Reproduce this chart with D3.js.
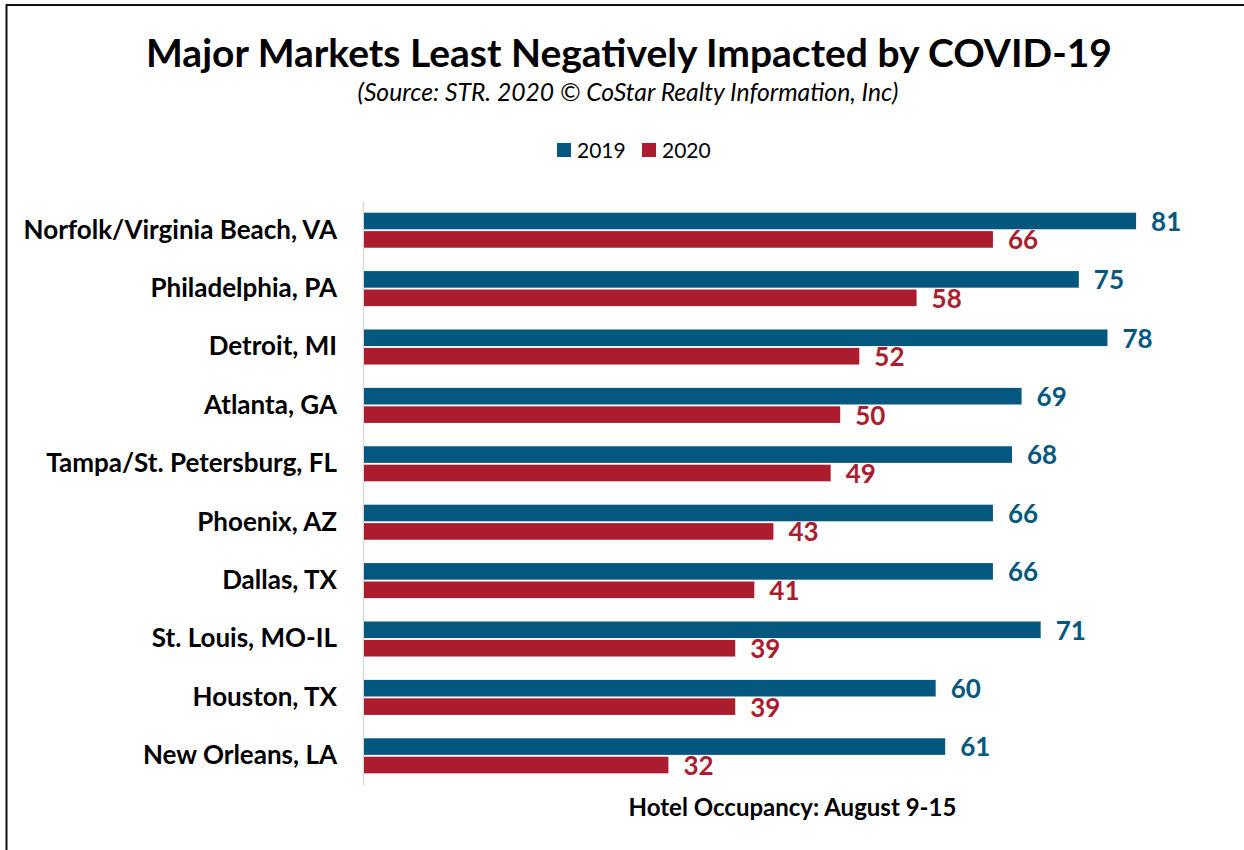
<!DOCTYPE html>
<html><head><meta charset="utf-8">
<script src="https://cdn.jsdelivr.net/npm/d3@7"></script>
<style>html,body{margin:0;padding:0;background:#fff;} svg{display:block;font-family:Lato,"Open Sans",sans-serif;}</style>
</head><body>
<svg id="chart" width="1244" height="850"></svg>
<script>
const categories = ["Norfolk/Virginia Beach, VA","Philadelphia, PA","Detroit, MI","Atlanta, GA","Tampa/St. Petersburg, FL","Phoenix, AZ","Dallas, TX","St. Louis, MO-IL","Houston, TX","New Orleans, LA"];
const seriesNames = ["2019","2020"];
const values2019 = [81,75,78,69,68,66,66,71,60,61];
const values2020 = [66,58,52,50,49,43,41,39,39,32];
const colors = ["#04587f","#ab1c2f"];

const svg = d3.select("#chart");
const W = 1244, H = 850;
const m = {left:363, right:22, top:201, bottom:65};

svg.append("rect").attr("width",W).attr("height",H).attr("fill","#fff");
svg.append("path").attr("d",`M6.5,${H} V5 H${W}`).attr("fill","none").attr("stroke","#111").attr("stroke-width",2);

svg.append("text").attr("x",629).attr("y",67).attr("text-anchor","middle")
  .attr("font-size",39).attr("font-weight",700).attr("fill","#000")
  .text("Major Markets Least Negatively Impacted by COVID-19");
svg.append("text").attr("x",628).attr("y",101).attr("text-anchor","middle")
  .attr("font-size",24.7).attr("font-style","italic").attr("fill","#000")
  .text("(Source: STR. 2020 © CoStar Realty Information, Inc)");

const x = d3.scaleLinear().domain([0,90]).range([m.left, W-m.right]);
const y = d3.scaleBand().domain(categories).range([m.top, H-m.bottom]).paddingInner(0.4).paddingOuter(0.2);
const ys = d3.scaleBand().domain(seriesNames).range([0,y.bandwidth()]).paddingInner(0.1);

const data = categories.map((c,i)=>({c, vals:[values2019[i],values2020[i]]}));

// legend
const lg = svg.append("g");
const legendX = [557,642];
seriesNames.forEach((s,i)=>{
  lg.append("rect").attr("x",legendX[i]).attr("y",143).attr("width",14).attr("height",14).attr("fill",colors[i]);
  lg.append("text").attr("x",legendX[i]+20).attr("y",158).attr("font-size",21).attr("fill","#000").text(s);
});

// axis line
const yAxis = d3.axisLeft(y).tickSize(0).tickPadding(26);
const ag = svg.append("g").attr("transform",`translate(${m.left},0)`).call(yAxis);
ag.select(".domain").attr("stroke","#d9d9d9").attr("stroke-width",1.5);
ag.selectAll("text").attr("font-size",26).attr("font-weight",700).attr("fill","#000").attr("font-family","Lato,'Open Sans',sans-serif");

const g = svg.append("g");
data.forEach(d=>{
  seriesNames.forEach((s,j)=>{
    const yy = y(d.c)+ys(s);
    g.append("rect").attr("x",x(0)+1).attr("y",yy).attr("width",x(d.vals[j])-x(0)-1).attr("height",ys.bandwidth()).attr("fill",colors[j]);
    g.append("text").attr("x",x(d.vals[j])+15).attr("y",yy+ys.bandwidth()/2).attr("dy","0.38em")
      .attr("font-size",26).attr("font-weight",700).attr("fill",colors[j]).text(d.vals[j]);
  });
});

svg.append("text").attr("x",(x.range()[0]+x.range()[1])/2).attr("y",816).attr("text-anchor","middle")
  .attr("font-size",24).attr("font-weight",700).attr("fill","#000").text("Hotel Occupancy: August 9-15");
</script>
</body></html>
